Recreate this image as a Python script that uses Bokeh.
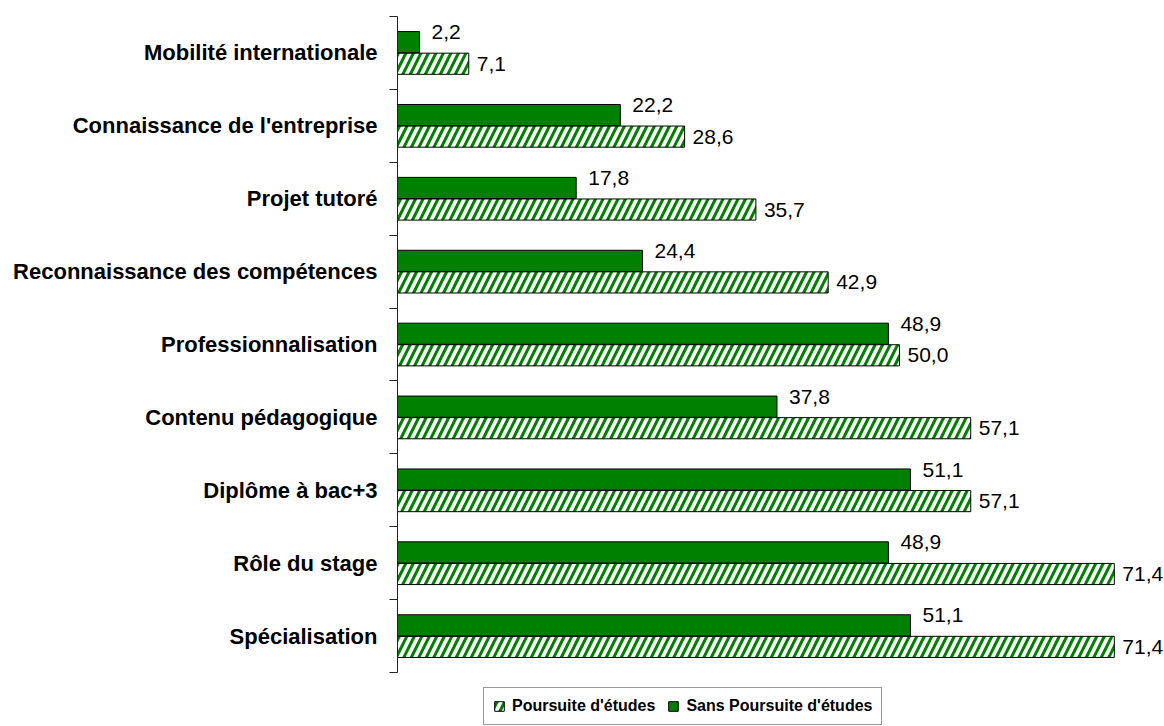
from bokeh.plotting import figure
from bokeh.models import (ColumnDataSource, Range1d, LinearAxis, FixedTicker, Legend, LegendItem)
from bokeh.transform import dodge
from bokeh.core.properties import value
from bokeh.embed import file_html
from bokeh.resources import INLINE

categories = ["Mobilité internationale", "Connaissance de l'entreprise", "Projet tutoré",
              "Reconnaissance des compétences", "Professionnalisation", "Contenu pédagogique",
              "Diplôme à bac+3", "Rôle du stage", "Spécialisation"]
poursuite = [7.1, 28.6, 35.7, 42.9, 50.0, 57.1, 57.1, 71.4, 71.4]
sans_poursuite = [2.2, 22.2, 17.8, 24.4, 48.9, 37.8, 51.1, 48.9, 51.1]
series_names = ["Poursuite d'études", "Sans Poursuite d'études"]

GREEN = "#008000"
FONT = "Liberation Sans"
N = len(categories)


def fmt(v):
    return f"{v:.1f}".replace(".", ",")


# slot centre of each category (first category at the top)
slot = [N - i - 0.5 for i in range(N)]

src = ColumnDataSource(dict(
    cat=categories,
    slot=slot,
    pours=poursuite,
    sans=sans_poursuite,
    pours_lbl=[fmt(v) for v in poursuite],
    sans_lbl=[fmt(v) for v in sans_poursuite],
))

p = figure(width=1164, height=726,
           y_range=Range1d(-0.74, N), x_range=Range1d(0, 76.4),
           x_axis_type=None, y_axis_type=None,
           output_backend="svg", toolbar_location=None,
           min_border_left=397, min_border_top=16, min_border_right=0,
           min_border_bottom=0, outline_line_color=None)

r_h = p.hbar(y=dodge("slot", -0.148), right="pours", height=0.29,
             fill_color="white", hatch_pattern="/", hatch_color=GREEN,
             hatch_scale=15, hatch_weight=3, line_color="black", line_width=1,
             source=src)
r_s = p.hbar(y=dodge("slot", 0.148), right="sans", height=0.29,
             fill_color=GREEN, line_color="black", line_width=1, source=src)

p.text(x="pours", y=dodge("slot", -0.148), text="pours_lbl",
       x_offset=8, text_baseline="middle", text_align="left",
       text_font=value(FONT), text_font_size="21px", text_color="black", source=src)
p.text(x="sans", y=dodge("slot", 0.148), text="sans_lbl",
       x_offset=12, y_offset=-10, text_baseline="middle", text_align="left",
       text_font=value(FONT), text_font_size="21px", text_color="black", source=src)

# axis line + ticks at category boundaries
bounds_ticks = list(range(N + 1))
tick_axis = LinearAxis(ticker=FixedTicker(ticks=bounds_ticks, minor_ticks=[]),
                       bounds=(0, N),
                       major_label_overrides={t: "" for t in bounds_ticks},
                       major_tick_in=0, major_tick_out=8, minor_tick_line_color=None,
                       major_label_standoff=0,
                       axis_line_color="#222222", major_tick_line_color="#222222")
p.add_layout(tick_axis, "left")

# category labels at slot centres
cat_axis = LinearAxis(ticker=FixedTicker(ticks=slot, minor_ticks=[]),
                      bounds=(0, N),
                      major_label_overrides={s: c for s, c in zip(slot, categories)},
                      major_tick_line_color=None, minor_tick_line_color=None,
                      major_tick_in=0, major_tick_out=0,
                      axis_line_color=None, major_label_text_font_size="22px",
                      major_label_text_font_style="bold",
                      major_label_text_font=FONT, major_label_standoff=12,
                      major_label_text_color="black")
p.add_layout(cat_axis, "left")

legend = Legend(items=[LegendItem(label=series_names[0], renderers=[r_h]),
                       LegendItem(label=series_names[1], renderers=[r_s])],
                orientation="horizontal", location=(86, 1),
                border_line_color="#333333", border_line_width=1,
                background_fill_color="white", background_fill_alpha=1,
                label_text_font=FONT, label_text_font_size="16px",
                label_text_font_style="bold", label_text_color="black",
                glyph_width=12, glyph_height=12,
                label_standoff=7, spacing=12, padding=9, margin=0)
p.add_layout(legend, "center")

open("out.html", "w").write(file_html(p, INLINE))
